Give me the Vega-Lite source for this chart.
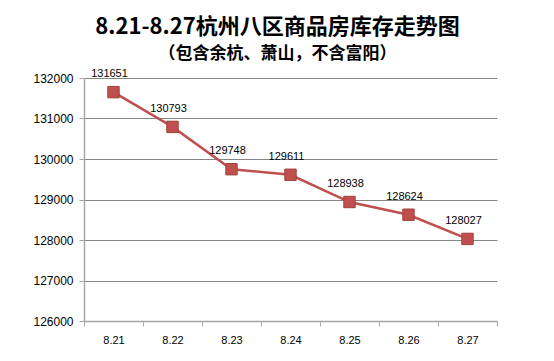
{
  "$schema": "https://vega.github.io/schema/vega-lite/v6.json",
  "autosize": "none",
  "width": 413,
  "height": 243,
  "padding": {"left": 84, "top": 78, "right": 57, "bottom": 40},
  "background": "white",
  "config": {"view": {"stroke": null}, "font": "Liberation Sans"},
  "title": {
    "text": "8.21-8.27杭州八区商品房库存走势图",
    "subtitle": "（包含余杭、萧山，不含富阳）",
    "anchor": "middle",
    "frame": "group",
    "dx": -13,
    "offset": 5,
    "font": "Noto Sans CJK SC",
    "fontSize": 22,
    "fontWeight": "bold",
    "color": "#000000",
    "subtitleFont": "Noto Sans CJK SC",
    "subtitleFontSize": 17,
    "subtitleFontWeight": "bold",
    "subtitleColor": "#000000",
    "subtitlePadding": 7
  },
  "data": {
    "values": [
      {"date": "8.21", "value": 131651},
      {"date": "8.22", "value": 130793},
      {"date": "8.23", "value": 129748},
      {"date": "8.24", "value": 129611},
      {"date": "8.25", "value": 128938},
      {"date": "8.26", "value": 128624},
      {"date": "8.27", "value": 128027}
    ]
  },
  "encoding": {
    "x": {
      "field": "date",
      "type": "nominal",
      "sort": null,
      "scale": {"type": "band", "paddingInner": 0, "paddingOuter": 0},
      "axis": {
        "title": null,
        "labelAngle": 0,
        "tickBand": "extent",
        "domainColor": "#a6a6a6",
        "domainWidth": 1.5,
        "tickColor": "#a6a6a6",
        "tickSize": 5,
        "labelFontSize": 11,
        "labelColor": "#000000",
        "labelPadding": 8,
        "grid": false
      }
    },
    "y": {
      "field": "value",
      "type": "quantitative",
      "scale": {"domain": [126000, 132000], "zero": false},
      "axis": {
        "title": null,
        "values": [126000, 127000, 128000, 129000, 130000, 131000, 132000],
        "format": "d",
        "gridColor": "#868686",
        "gridWidth": 1,
        "domainColor": "#a6a6a6",
        "domainWidth": 1.5,
        "tickColor": "#a6a6a6",
        "tickSize": 5,
        "labelFontSize": 12,
        "labelColor": "#000000",
        "labelPadding": 6
      }
    }
  },
  "layer": [
    {"mark": {"type": "line", "color": "#C0504D", "strokeWidth": 2.5}},
    {"mark": {"type": "point", "shape": "square", "filled": true, "size": 130, "color": "#C0504D", "stroke": "#A0403D", "strokeWidth": 1, "opacity": 1}},
    {"mark": {"type": "text", "dy": -18, "dx": -4, "fontSize": 11, "color": "#000000"}, "encoding": {"text": {"field": "value", "type": "quantitative", "format": "d"}}}
  ]
}
